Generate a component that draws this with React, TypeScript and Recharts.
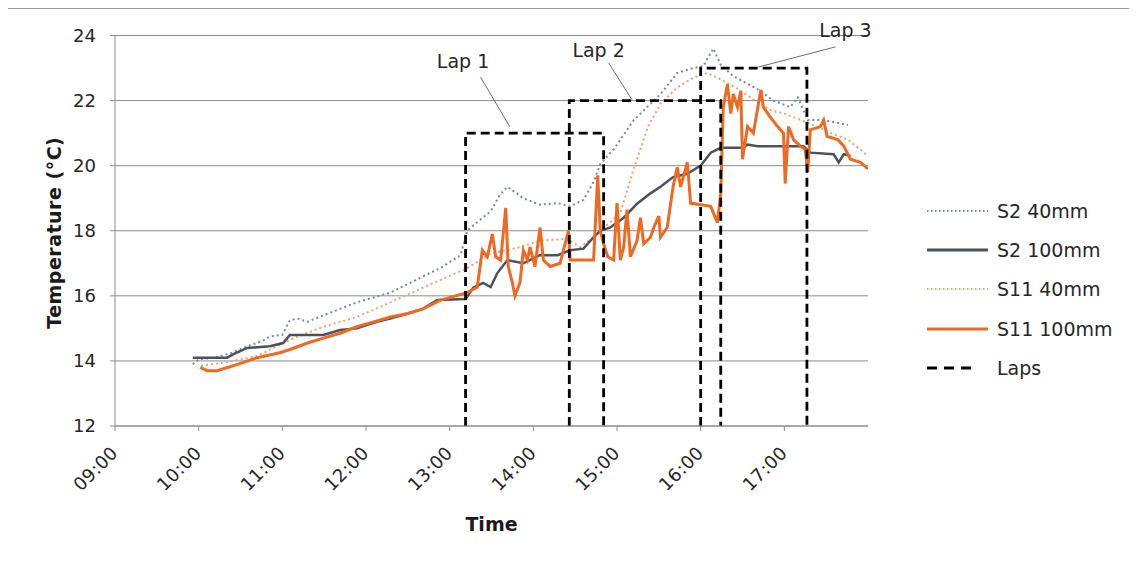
import React from 'react';
import { LineChart, Line, XAxis, YAxis, CartesianGrid, Legend, ReferenceLine, ReferenceDot } from 'recharts';

const FONT = '"DejaVu Sans", Verdana, sans-serif';

const xTicks = [9, 10, 11, 12, 13, 14, 15, 16, 17];
const yTicks = [12, 14, 16, 18, 20, 22, 24];
const seriesNames = ['S2 40mm', 'S2 100mm', 'S11 40mm', 'S11 100mm', 'Laps'];
const seriesColors = ['#7d8893', '#4b525b', '#f2a06e', '#ee6a22', '#000000'];

const s2_40mm: [number, number][] = [
  [9.93, 13.9], [10.0, 14.05], [10.2, 14.1], [10.4, 14.25], [10.58, 14.45], [10.75, 14.6], [10.85, 14.75],
  [11.0, 14.8], [11.09, 15.25], [11.18, 15.3], [11.3, 15.2], [11.49, 15.4], [11.69, 15.6], [11.89, 15.8],
  [12.09, 15.95], [12.29, 16.1], [12.49, 16.35], [12.68, 16.6], [12.89, 16.85], [13.13, 17.25], [13.21, 18.0],
  [13.3, 18.2], [13.49, 18.6], [13.6, 19.1], [13.69, 19.35], [13.8, 19.15], [13.88, 19.0], [14.08, 18.8],
  [14.29, 18.85], [14.44, 18.75], [14.6, 18.95], [14.72, 19.5], [14.8, 20.05], [14.96, 20.5], [15.2, 21.4],
  [15.4, 21.9], [15.52, 22.2], [15.72, 22.85], [15.91, 23.0], [16.03, 23.05], [16.15, 23.6], [16.24, 23.1],
  [16.39, 22.75], [16.68, 22.35], [16.87, 22.0], [17.07, 21.8], [17.16, 22.1], [17.23, 21.7], [17.28, 21.4],
  [17.47, 21.4], [17.76, 21.25],
];

const s2_100mm: [number, number][] = [
  [9.93, 14.1], [10.34, 14.1], [10.41, 14.2], [10.58, 14.4], [10.85, 14.45], [11.01, 14.55], [11.09, 14.8],
  [11.49, 14.8], [11.69, 14.95], [11.89, 15.0], [12.13, 15.2], [12.29, 15.3], [12.49, 15.45], [12.68, 15.6],
  [12.85, 15.87], [13.19, 15.9], [13.28, 16.25], [13.4, 16.4], [13.49, 16.27], [13.57, 16.7], [13.69, 17.1],
  [13.88, 17.0], [14.08, 17.25], [14.29, 17.25], [14.44, 17.4], [14.6, 17.45], [14.72, 17.8], [14.8, 18.0],
  [14.92, 18.1], [15.08, 18.4], [15.24, 18.83], [15.4, 19.15], [15.52, 19.35], [15.67, 19.65], [15.84, 19.75],
  [16.0, 20.0], [16.12, 20.4], [16.24, 20.55], [16.51, 20.55], [16.56, 20.65], [16.68, 20.6], [17.23, 20.6],
  [17.31, 20.4], [17.59, 20.35], [17.65, 20.1], [17.71, 20.35], [17.79, 20.3],
];

const s11_40mm: [number, number][] = [
  [10.03, 13.85], [10.3, 13.95], [10.7, 14.15], [11.09, 14.65], [11.49, 15.05], [11.89, 15.35], [12.29, 15.8],
  [12.68, 16.25], [13.21, 16.85], [13.49, 17.3], [13.85, 17.5], [14.08, 17.7], [14.4, 17.75], [14.56, 17.5],
  [14.72, 17.8], [15.04, 18.55], [15.2, 19.9], [15.37, 21.2], [15.52, 21.9], [15.72, 22.4], [15.91, 22.7],
  [16.08, 22.85], [16.24, 22.65], [16.45, 22.35], [16.65, 22.0], [16.84, 21.7], [17.0, 21.6], [17.3, 21.3],
  [17.56, 21.0], [17.76, 20.8], [18.0, 20.3],
];

const s11_100mm: [number, number][] = [
  [10.02, 13.8], [10.1, 13.7], [10.22, 13.7], [10.41, 13.85], [10.7, 14.1], [10.97, 14.25], [11.09, 14.35],
  [11.3, 14.55], [11.49, 14.7], [11.69, 14.85], [11.89, 15.05], [12.09, 15.2], [12.29, 15.35], [12.49, 15.45],
  [12.68, 15.6], [12.89, 15.87], [13.21, 16.1], [13.33, 16.27], [13.39, 17.4], [13.45, 17.2], [13.51, 17.9],
  [13.55, 17.2], [13.61, 17.1], [13.67, 18.7], [13.7, 16.9], [13.75, 16.4], [13.78, 16.0], [13.84, 16.4],
  [13.88, 17.4], [13.93, 17.1], [13.96, 17.5], [14.02, 16.9], [14.08, 18.1], [14.12, 17.1], [14.2, 16.9],
  [14.32, 17.0], [14.42, 18.0], [14.44, 17.1], [14.56, 17.1], [14.72, 17.1], [14.77, 19.7], [14.8, 18.0],
  [14.84, 17.6], [14.89, 17.2], [14.96, 17.1], [15.0, 18.85], [15.04, 17.1], [15.08, 17.5], [15.12, 18.65],
  [15.16, 17.2], [15.24, 17.7], [15.28, 18.4], [15.32, 17.6], [15.4, 17.8], [15.44, 18.1], [15.5, 18.45],
  [15.52, 17.8], [15.6, 18.1], [15.67, 19.35], [15.72, 19.95], [15.76, 19.35], [15.84, 20.1], [15.88, 18.85],
  [16.12, 18.75], [16.2, 18.25], [16.24, 19.15], [16.27, 21.8], [16.32, 22.5], [16.36, 21.6], [16.39, 22.2],
  [16.44, 21.8], [16.48, 22.3], [16.5, 20.2], [16.56, 21.2], [16.63, 21.0], [16.72, 22.33], [16.75, 21.8],
  [16.83, 21.5], [16.92, 21.2], [16.99, 21.0], [17.01, 19.45], [17.05, 21.2], [17.11, 20.8], [17.19, 20.6],
  [17.25, 20.5], [17.28, 19.8], [17.31, 21.1], [17.43, 21.2], [17.47, 21.4], [17.51, 20.9], [17.64, 20.8],
  [17.71, 20.6], [17.79, 20.2], [17.91, 20.1], [18.0, 19.9],
];

const lapStart = [13.19, 14.43, 16.0];
const lapEnd = [14.84, 16.24, 17.27];
const lapTop = [21, 22, 23];
const lapBase = 12;

const lapLabels = ['Lap 1', 'Lap 2', 'Lap 3'];
const lapLabelPos: [number, number][] = [[13.16, 23.22], [14.78, 23.55], [17.73, 24.17]];
const lapLeaderFrom: [number, number][] = [[13.37, 22.72], [14.9, 23.16], [17.61, 23.65]];
const lapLeaderTo: [number, number][] = [[13.72, 21.19], [15.18, 22.02], [16.69, 23.03]];

const toRows = (pts: [number, number][]) => pts.map(([t, v]) => ({ t, v }));
const lapRows = lapStart.map((s, i) => [
  { t: s, v: lapBase },
  { t: s, v: lapTop[i] },
  { t: lapEnd[i], v: lapTop[i] },
  { t: lapEnd[i], v: lapBase },
]);

const fmtHour = (h: number) => `${String(h).padStart(2, '0')}:00`;

const XTick = (props: any) => {
  const { x, y, payload } = props;
  const tx = x + 4;
  const ty = y + 21;
  return (
    <text x={tx} y={ty} transform={`rotate(-45 ${tx} ${ty})`} textAnchor="end" fontFamily={FONT} fontSize={18} letterSpacing={0.4} fill="#262626">
      {fmtHour(payload.value)}
    </text>
  );
};

const YTick = (props: any) => {
  const { x, y, payload } = props;
  return (
    <text x={x} y={y} dy="0.36em" textAnchor="end" fontFamily={FONT} fontSize={18} fill="#262626">
      {payload.value}
    </text>
  );
};

const legendStyles = [
  { dash: '1.5 2.5', width: 2 },
  { dash: undefined, width: 3 },
  { dash: '1.5 2.5', width: 2 },
  { dash: undefined, width: 3 },
  { dash: '10 7', width: 3 },
];

const LegendContent = () => (
  <div style={{ fontFamily: FONT, fontSize: 19, color: '#262626' }}>
    {seriesNames.map((n, i) => (
      <div key={n} style={{ display: 'flex', alignItems: 'center', height: 39.2 }}>
        <svg width={70} height={10} style={{ display: 'block' }}>
          <line x1={0} y1={5} x2={i === 4 ? 44 : 61} y2={5} stroke={seriesColors[i]} strokeWidth={legendStyles[i].width} strokeDasharray={legendStyles[i].dash} />
        </svg>
        <span style={{ whiteSpace: 'nowrap' }}>{n}</span>
      </div>
    ))}
  </div>
);

export default function App() {
  return (
    <div style={{ position: 'relative', width: 1121, height: 547 }}>
      <div style={{ position: 'absolute', left: -1, top: 0, width: 1127, height: 546, borderTop: '1px solid #9a9a9a', borderLeft: '1px solid #9a9a9a', pointerEvents: 'none' }} />
      <LineChart width={1121} height={547} margin={{ top: 27.5, right: 261, bottom: 29, left: 0 }}>
        <CartesianGrid vertical={false} stroke="#8c8c8c" strokeWidth={1} />
        <XAxis
          dataKey="t"
          type="number"
          domain={[9, 18]}
          ticks={xTicks}
          allowDataOverflow
          height={100}
          stroke="#8c8c8c"
          tickSize={5}
          tickMargin={2}
          tick={<XTick />}
          label={(p: any) => {
            const vb = p.viewBox;
            return (
              <text x={vb.x + vb.width / 2} y={523} textAnchor="middle" fontFamily={FONT} fontSize={19} fontWeight="bold" fill="#1a1a1a">Time</text>
            );
          }}
        />
        <YAxis
          type="number"
          domain={[12, 24]}
          ticks={yTicks}
          allowDataOverflow
          width={107}
          stroke="#8c8c8c"
          tickSize={5}
          tickMargin={14}
          tick={<YTick />}
          label={(p: any) => {
            const vb = p.viewBox;
            const cy = vb.y + vb.height / 2 + 2;
            return (
              <text x={46} y={cy} transform={`rotate(-90 46 ${cy})`} dy="0.36em" textAnchor="middle" fontFamily={FONT} fontSize={19} letterSpacing={0.5} fontWeight="bold" fill="#1a1a1a">Temperature (°C)</text>
            );
          }}
        />
        <Legend
          layout="vertical"
          verticalAlign="middle"
          align="center"
          content={<LegendContent />}
          wrapperStyle={{ position: 'absolute', left: 919, top: 183.5, width: 200 }}
        />
        <Line data={toRows(s2_40mm)} dataKey="v" name={seriesNames[0]} stroke={seriesColors[0]} strokeWidth={2} strokeDasharray="2 3" dot={false} isAnimationActive={false} />
        <Line data={toRows(s11_40mm)} dataKey="v" name={seriesNames[2]} stroke={seriesColors[2]} strokeWidth={2} strokeDasharray="2 3" dot={false} isAnimationActive={false} />
        <Line data={toRows(s2_100mm)} dataKey="v" name={seriesNames[1]} stroke={seriesColors[1]} strokeWidth={2.5} dot={false} isAnimationActive={false} />
        <Line data={toRows(s11_100mm)} dataKey="v" name={seriesNames[3]} stroke={seriesColors[3]} strokeWidth={3} dot={false} isAnimationActive={false} />
        {lapRows.map((rows, i) => (
          <Line key={`lap${i}`} data={rows} dataKey="v" name={seriesNames[4]} stroke="#000" strokeWidth={2.8} strokeDasharray="9 5" dot={false} isAnimationActive={false} legendType="none" />
        ))}
        {lapLabels.map((lbl, i) => (
          <ReferenceLine
            key={`ll${i}`}
            segment={[{ x: lapLeaderFrom[i][0], y: lapLeaderFrom[i][1] }, { x: lapLeaderTo[i][0], y: lapLeaderTo[i][1] }]}
            stroke="#6b6b6b"
            strokeWidth={1}
            ifOverflow="visible"
          />
        ))}
        {lapLabels.map((lbl, i) => (
          <ReferenceDot
            key={`lb${i}`}
            x={lapLabelPos[i][0]}
            y={lapLabelPos[i][1]}
            r={0}
            fill="none"
            stroke="none"
            ifOverflow="visible"
            label={{ value: lbl, position: 'center', fontFamily: FONT, fontSize: 19, fill: '#262626' }}
          />
        ))}
      </LineChart>
    </div>
  );
}
